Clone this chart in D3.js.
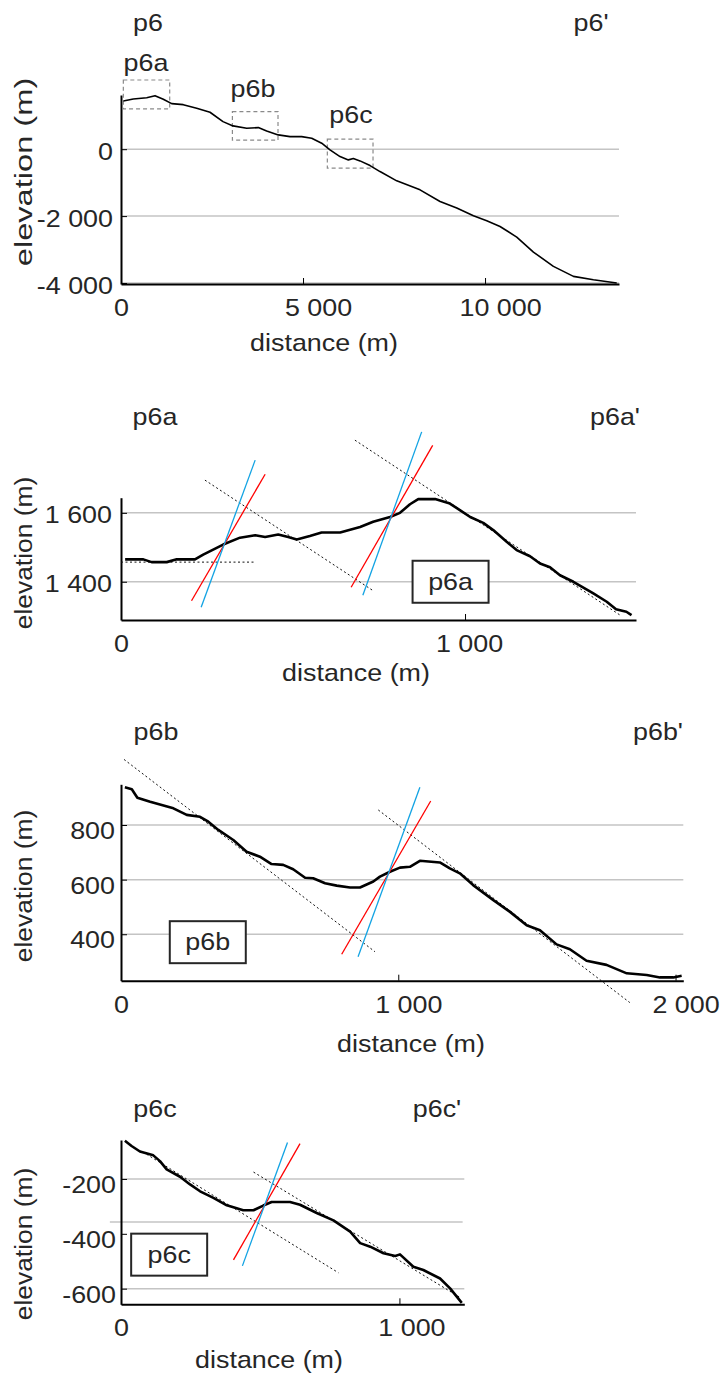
<!DOCTYPE html>
<html>
  <head>
    <meta charset="utf-8">
    <title>p6 profiles</title>
    <script src="https://cdn.jsdelivr.net/npm/d3@7"></script>
    <style>
      body { margin: 0; background: #fff; }
      text { font-family: "Liberation Sans", Arial, sans-serif; font-size: 24px; fill: #262626; }
    </style>
  </head>
  <body>
    <script type="text/javascript">
      // full profile p6
      var p6Dist = [64, 338, 706, 934, 1162, 1392, 1710, 2079, 2445, 2802, 3077, 3453, 3772, 4001, 4320, 4642, 4963, 5238, 5513, 5741, 6016, 6245, 6382, 6566, 6841, 7115, 7574, 8214, 8764, 9223, 9681, 10047, 10412, 10871, 11329, 11878, 12428, 12977, 13618];
      var p6Elev = [1442, 1502, 1540, 1600, 1492, 1361, 1331, 1224, 1104, 824, 696, 627, 645, 546, 427, 376, 376, 328, 179, -21, -221, -320, -281, -350, -490, -669, -946, -1215, -1564, -1761, -1991, -2140, -2311, -2627, -3075, -3504, -3803, -3902, -4000];
      // zoom boxes drawn on p6: [d0, d1, e0, e1]
      var p6Boxes = [[64, 1338, 1203, 2069], [3060, 4313, 269, 1122], [5668, 6923, -567, 298]];
      var p6BoxNames = ["p6a", "p6b", "p6c"];

      // p6a
      var p6aDist = [12, 65, 89, 133, 162, 215, 239, 297, 346, 390, 419, 457, 486, 511, 549, 583, 637, 695, 733, 782, 811, 840, 864, 913, 956, 985, 1015, 1053, 1082, 1121, 1150, 1189, 1218, 1247, 1276, 1315, 1373, 1412, 1439, 1469, 1484];
      var p6aElev = [1465, 1465, 1457, 1457, 1465, 1465, 1479, 1508, 1528, 1535, 1530, 1537, 1530, 1523, 1533, 1543, 1543, 1559, 1574, 1588, 1600, 1625, 1640, 1640, 1627, 1608, 1588, 1571, 1550, 1516, 1492, 1474, 1453, 1442, 1419, 1400, 1366, 1342, 1320, 1313, 1303];
      var p6aDotted = [[0, 1457, 389, 1457], [244, 1695, 733, 1374], [680, 1811, 1451, 1303]];
      var p6aRed = [[205, 1345, 419, 1712], [669, 1384, 906, 1796]];
      var p6aBlue = [[233, 1326, 390, 1753], [703, 1361, 874, 1835]];

      // p6b
      var p6bDist = [14, 39, 59, 105, 189, 237, 285, 315, 351, 405, 453, 501, 543, 585, 621, 664, 693, 736, 778, 826, 862, 910, 934, 970, 1006, 1042, 1078, 1150, 1186, 1222, 1270, 1343, 1403, 1463, 1511, 1571, 1619, 1679, 1751, 1824, 1896, 1944, 1992, 2022];
      var p6bElev = [938, 931, 900, 885, 861, 837, 830, 812, 782, 745, 702, 684, 657, 654, 638, 607, 605, 587, 578, 571, 571, 593, 611, 629, 644, 647, 669, 663, 641, 623, 580, 525, 482, 433, 415, 363, 345, 303, 288, 257, 251, 242, 242, 248];
      var p6bDotted = [[11, 1040, 916, 336], [928, 855, 1835, 150]];
      var p6bRed = [[796, 327, 1117, 888]];
      var p6bBlue = [[855, 318, 1078, 938]];

      // p6c
      var p6cDist = [14, 38, 68, 116, 140, 164, 212, 248, 284, 332, 380, 439, 476, 511, 541, 607, 643, 703, 763, 823, 859, 895, 943, 985, 1002, 1050, 1086, 1146, 1182, 1224];
      var p6cElev = [-61, -80, -100, -114, -135, -165, -192, -220, -245, -269, -296, -314, -314, -297, -284, -284, -294, -324, -351, -392, -434, -447, -471, -481, -475, -520, -532, -563, -599, -652];
      var p6cDotted = [[92, -110, 781, -542], [476, -175, 1218, -632]];
      var p6cRed = [[404, -495, 643, -71]];
      var p6cBlue = [[436, -517, 598, -67]];
      var p6cLevel = [[-40, -357, 1227, -357]];

      var fmt = d3.formatLocale({decimal: ".", thousands: " ", grouping: [3], currency: ["", ""], minus: "-"}).format(",");

      var svg = d3.select("body").append("svg")
                  .attr("width", 721)
                  .attr("height", 1380);

      var SX = 1.12; // glyphs in the picture are a bit wider than Arial

      function label(g, x, y, str, anchor) {
        return g.append("text")
                .attr("transform", "translate(" + x + "," + y + ") scale(" + SX + ",1)")
                .attr("text-anchor", anchor || "middle")
                .text(str);
      }

      function segs(g, x, y, list, color, width, dash) {
        g.selectAll(null).data(list).enter().append("line")
         .attr("x1", function(d) { return x(d[0]); })
         .attr("y1", function(d) { return y(d[1]); })
         .attr("x2", function(d) { return x(d[2]); })
         .attr("y2", function(d) { return y(d[3]); })
         .attr("stroke", color)
         .attr("stroke-width", width)
         .attr("stroke-dasharray", dash || null);
      }

      function drawPanel(p) {
        var g = svg.append("g");
        var x = d3.scaleLinear().domain(p.xDomain).range([121, p.xEnd]);
        var y = d3.scaleLinear().domain(p.yDomain).range([p.yBottom, p.yTop]);

        // grid
        g.selectAll(null).data(p.grid).enter().append("line")
         .attr("x1", x(p.xDomain[0])).attr("x2", x(p.xDomain[1]))
         .attr("y1", function(d) { return y(d); })
         .attr("y2", function(d) { return y(d); })
         .attr("stroke", "#c4c4c4").attr("stroke-width", 1.5);
        if (p.level) segs(g, x, y, p.level, "#c4c4c4", 1.5);

        // axes
        var ax = g.append("g").attr("transform", "translate(0," + p.yBottom + ")")
                  .call(d3.axisBottom(x).tickValues(p.xTicks).tickSize(-6).tickSizeOuter(0).tickFormat(fmt));
        ax.selectAll("text")
          .attr("y", null).attr("dy", null)
          .attr("transform", function(d) {
            return "translate(" + (d === 0 ? 0 : p.xShift) + ",32) scale(" + SX + ",1)";
          });
        var ay = g.append("g").attr("transform", "translate(121,0)")
                  .call(d3.axisLeft(y).tickValues(p.yTicks).tickSize(-6).tickSizeOuter(0).tickFormat(fmt));
        ay.selectAll("text")
          .attr("x", null).attr("dy", null)
          .attr("transform", "translate(" + p.yLabX + "," + (8.5 + p.yLabDy) + ") scale(" + SX + ",1)");
        g.selectAll(".domain").attr("stroke", "#000").attr("stroke-width", 2);
        g.selectAll(".tick line").attr("stroke", "#000");
        g.selectAll(".tick text").attr("font-size", null).attr("font-family", null).attr("fill", "#262626");

        // zoom boxes (only on p6)
        if (p.boxes) {
          g.selectAll(null).data(p.boxes).enter().append("rect")
           .attr("x", function(d) { return x(d[0]); })
           .attr("y", function(d) { return y(d[3]); })
           .attr("width", function(d) { return x(d[1]) - x(d[0]); })
           .attr("height", function(d) { return y(d[2]) - y(d[3]); })
           .attr("fill", "none").attr("stroke", "#8a8a8a")
           .attr("stroke-width", 1.2).attr("stroke-dasharray", "4,3");
          p.boxes.forEach(function(b, i) {
            label(g, p.boxLab[i][0], p.boxLab[i][1], p.boxNames[i]);
          });
        }

        // fitted lines
        if (p.dotted) segs(g, x, y, p.dotted, "#111", 1, "2,2.5");

        // profile
        var line = d3.line().x(function(d) { return x(d[0]); }).y(function(d) { return y(d[1]); });
        g.append("path")
         .datum(d3.zip(p.dist, p.elev))
         .attr("d", line)
         .attr("fill", "none").attr("stroke", "#000")
         .attr("stroke-width", p.lw).attr("stroke-linejoin", "round");

        if (p.red) segs(g, x, y, p.red, "#ff0000", 1.3);
        if (p.blue) segs(g, x, y, p.blue, "#12a3e3", 1.3);

        // name box
        if (p.nameAt) {
          var cx = x(p.nameAt[0]), cy = y(p.nameAt[1]);
          g.append("rect").attr("x", cx - 38).attr("y", cy - 21)
           .attr("width", 76).attr("height", 42)
           .attr("fill", "#fff").attr("stroke", "#262626").attr("stroke-width", 2);
          label(g, cx, cy + 8, p.name);
        }

        // end labels and titles
        label(g, p.ends[0], p.ends[2], p.name);
        label(g, p.ends[1], p.ends[2], p.name + "'");
        label(g, p.xTitle[0], p.xTitle[1], "distance (m)");
        g.append("text")
         .attr("transform", "translate(32," + p.yTitle[0] + ") rotate(-90) scale(" + p.yTitle[1] + ",1)")
         .attr("text-anchor", "middle")
         .text("elevation (m)");
      }

      drawPanel({name: "p6", dist: p6Dist, elev: p6Elev, lw: 1.6,
                 xDomain: [0, 13680], xEnd: 619, yDomain: [-4030, 1620], yBottom: 284, yTop: 95,
                 xTicks: [0, 5000, 10000], yTicks: [-4000, -2000, 0], grid: [-4000, -2000, 0],
                 xShift: 15, yLabX: -8, yLabDy: 2,
                 boxes: p6Boxes, boxNames: p6BoxNames, boxLab: [[146, 71], [253, 97], [351, 123]],
                 ends: [148, 591, 31], xTitle: [324, 351], yTitle: [172, 1.36]});

      drawPanel({name: "p6a", dist: p6aDist, elev: p6aElev, lw: 2.6,
                 xDomain: [0, 1497], xEnd: 636, yDomain: [1289, 1644], yBottom: 620, yTop: 497.7,
                 xTicks: [0, 1000], yTicks: [1400, 1600], grid: [1400, 1600],
                 xShift: 4, yLabX: -9, yLabDy: 1,
                 dotted: p6aDotted, red: p6aRed, blue: p6aBlue, nameAt: [958, 1400],
                 ends: [155, 615, 425], xTitle: [356, 681], yTitle: [553, 1.1]});

      drawPanel({name: "p6b", dist: p6bDist, elev: p6bElev, lw: 2.6,
                 xDomain: [0, 2028], xEnd: 683.3, yDomain: [230, 949], yBottom: 980.7, yTop: 784.3,
                 xTicks: [0, 1000, 2000], yTicks: [400, 600, 800], grid: [400, 600, 800],
                 xShift: 10, yLabX: -6, yLabDy: 5,
                 dotted: p6bDotted, red: p6bRed, blue: p6bBlue, nameAt: [313, 371],
                 ends: [156, 658, 740], xTitle: [411, 1052], yTitle: [886, 1.1]});

      drawPanel({name: "p6c", dist: p6cDist, elev: p6cElev, lw: 2.6,
                 xDomain: [0, 1233], xEnd: 464.3, yDomain: [-657, -58], yBottom: 1304.3, yTop: 1140,
                 xTicks: [0, 1000], yTicks: [-600, -400, -200], grid: [-600, -200], level: p6cLevel,
                 xShift: 12, yLabX: -5, yLabDy: 5,
                 dotted: p6cDotted, red: p6cRed, blue: p6cBlue, nameAt: [173, -476],
                 ends: [155, 437, 1117], xTitle: [269, 1368], yTitle: [1244, 1.1]});
    </script>
  </body>
</html>
